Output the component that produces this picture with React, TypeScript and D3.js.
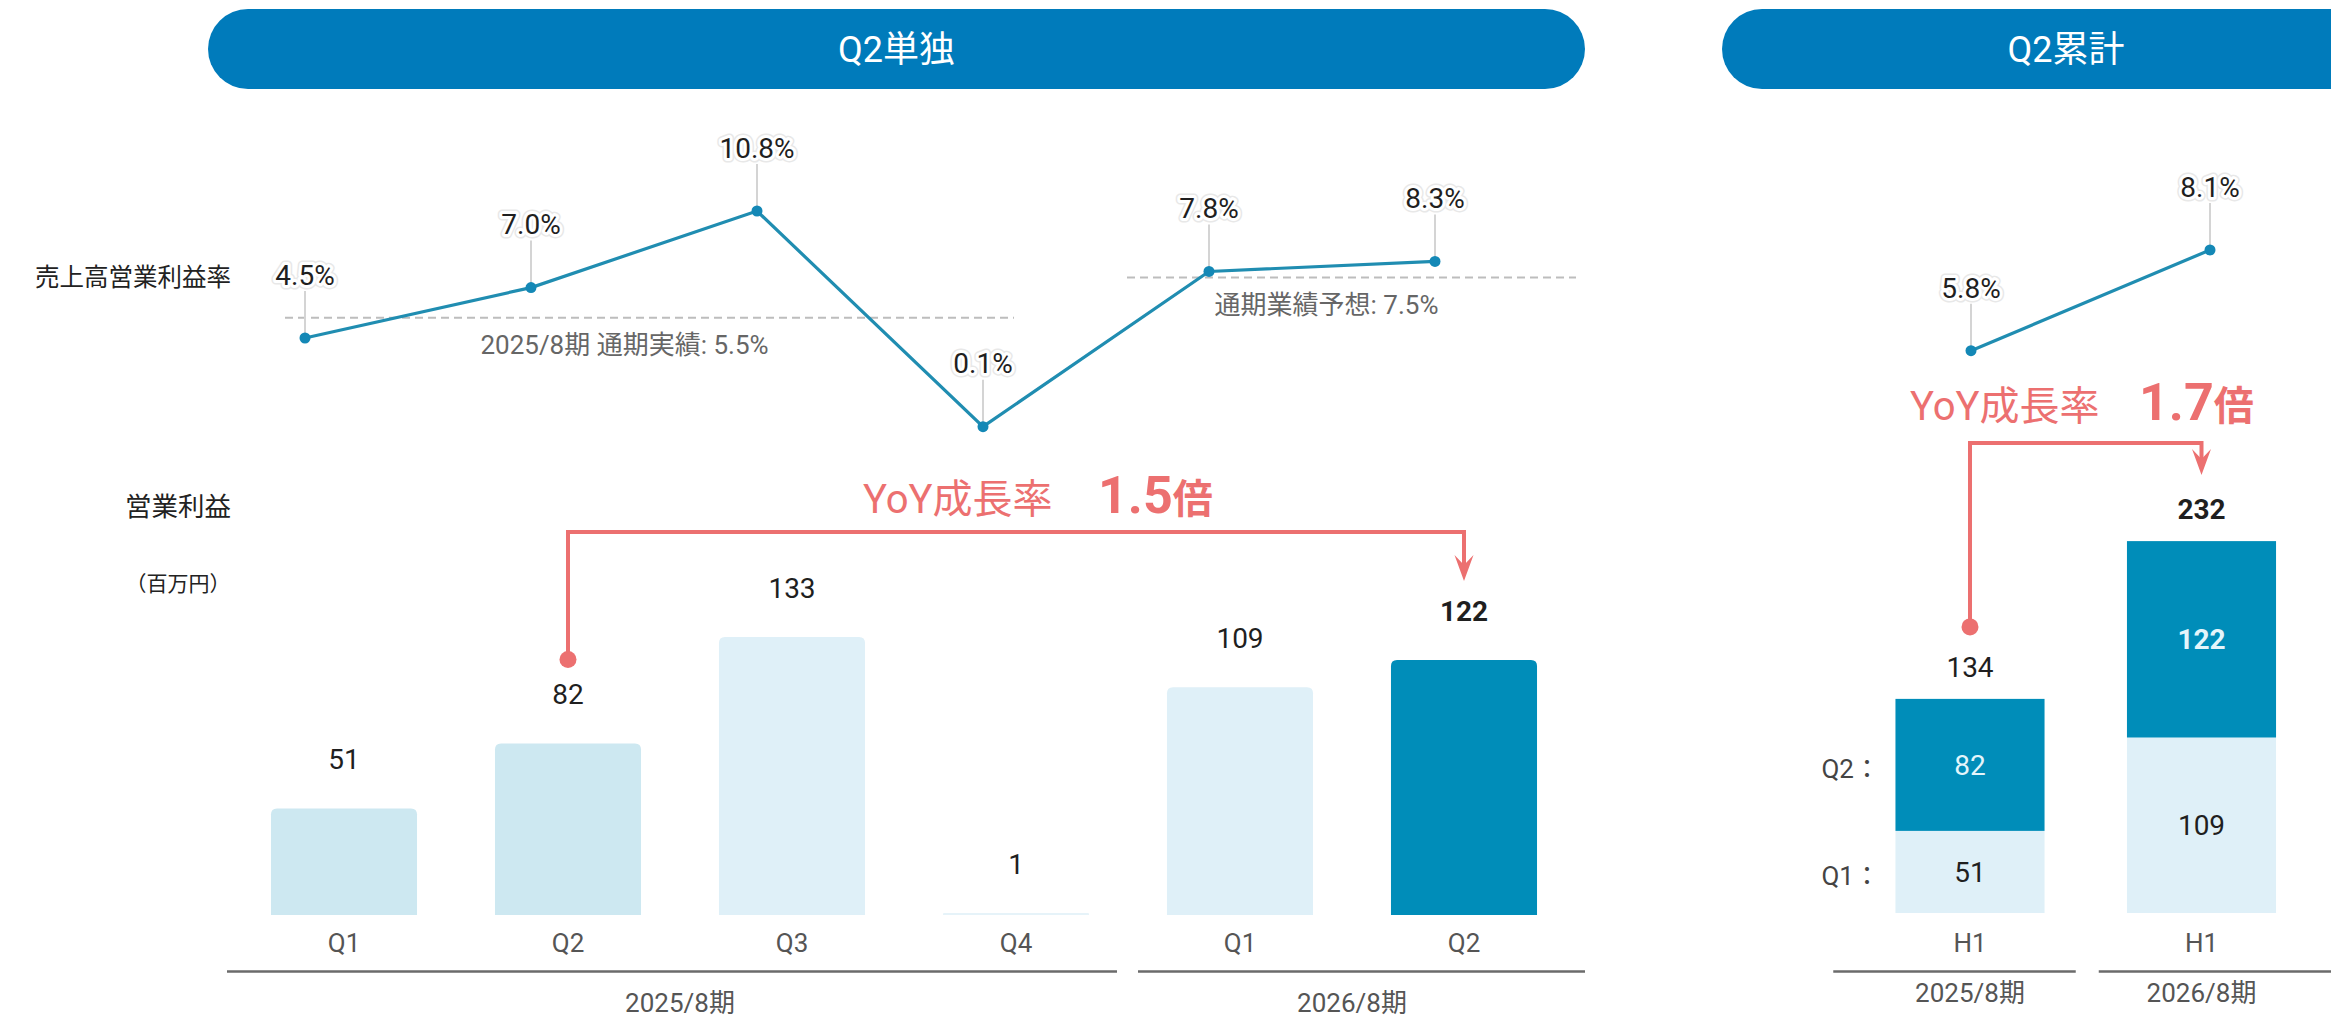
import React from "react";
import * as d3 from "d3";

// Q2単独 (quarterly)
const quarters = ["Q1", "Q2", "Q3", "Q4", "Q1", "Q2"];
const quarterYears = ["2025/8期", "2025/8期", "2025/8期", "2025/8期", "2026/8期", "2026/8期"];
const operatingProfit = [51, 82, 133, 1, 109, 122];
const operatingMargin = [4.5, 7.0, 10.8, 0.1, 7.8, 8.3];
const barColors = ["#cde8f1", "#cde8f1", "#dff0f8", "#e6f3f9", "#dff0f8", "#008db9"];

// full-year reference lines
const refLabels = ["2025/8期 通期実績: 5.5%", "通期業績予想: 7.5%"];
const refValues = [5.5, 7.5];

// Q2累計 (cumulative)
const halfPeriods = ["H1", "H1"];
const halfYears = ["2025/8期", "2026/8期"];
const halfQ1 = [51, 109];
const halfQ2 = [82, 122];
const halfTotal = [134, 232];
const halfMargin = [5.8, 8.1];
const stackLabels = ["Q1：", "Q2："];

const W = 2331;
const H = 1017;
const FONT = "Roboto, 'Noto Sans CJK JP', sans-serif";
const BLUE = "#007bbb";
const DARK = "#008db9";
const LIGHT = "#dff0f8";
const LINE = "#208db1";
const RED = "#ec7070";

const topRounded = (x: number, y: number, w: number, h: number, r: number) => {
  r = Math.min(r, h / 2, w / 2);
  return `M${x},${y + h}V${y + r}Q${x},${y} ${x + r},${y}H${x + w - r}Q${x + w},${y} ${x + w},${y + r}V${y + h}Z`;
};

// text with a white halo and faint grey rim, like the labels in the slide
const HaloText = ({ x, y, children, size = 28, weight = 400, fill = "#1f1f1f" }: any) => (
  <g fontFamily={FONT} fontSize={size} fontWeight={weight} textAnchor="middle">
    <text x={x} y={y} dy="0.35em" stroke="#e8e8e8" strokeWidth={9} strokeLinejoin="round" fill="none">
      {children}
    </text>
    <text x={x} y={y} dy="0.35em" stroke="#fff" strokeWidth={6} strokeLinejoin="round" fill="none">
      {children}
    </text>
    <text x={x} y={y} dy="0.35em" fill={fill}>
      {children}
    </text>
  </g>
);

const Bracket = ({ x1, x2, yDot, yTop, yTip }: any) => (
  <g>
    <path d={`M${x1},${yDot}V${yTop}H${x2}V${yTip - 12}`} fill="none" stroke={RED} strokeWidth={4} />
    <circle cx={x1} cy={yDot} r={8.5} fill={RED} />
    <path
      d={`M${x2},${yTip}L${x2 - 9.5},${yTip - 26}L${x2},${yTip - 16}L${x2 + 9.5},${yTip - 26}Z`}
      fill={RED}
    />
  </g>
);

const GroupAxis = ({ groups, xStart, xEnd, outerPad, innerPad, yLine, yLabel }: any) => (
  <g>
    {groups.map((g: any, i: number) => {
      const first = i === 0;
      const last = i === groups.length - 1;
      const x1 = xStart(g) + (first ? -outerPad[0] : innerPad[1]);
      const x2 = xEnd(g) + (last ? outerPad[1] : -innerPad[0]);
      return (
        <g key={g.name + i}>
          <line x1={x1} x2={x2} y1={yLine} y2={yLine} stroke="#6b6b6b" strokeWidth={2.5} />
          <text
            x={(xStart(g) + xEnd(g)) / 2}
            y={yLabel}
            dy="0.35em"
            textAnchor="middle"
            fontFamily={FONT}
            fontSize={26}
            fill="#555"
          >
            {g.name}
          </text>
        </g>
      );
    })}
  </g>
);

const App = () => {
  // ---------- left panel scales ----------
  const idx = d3.range(quarters.length);
  const xBar = d3.scaleBand<number>().domain(idx).range([232, 1576]).paddingInner(0.348).paddingOuter(0.174);
  const yBar = d3.scaleLinear().domain([0, 133]).range([915, 637]);
  const xPt = d3.scalePoint<number>().domain(idx).range([305, 1435]);
  const yPct = d3.scaleLinear().domain([0, 10.8]).range([428.7, 211]);
  const linePath = d3
    .line<number>()
    .x((d, i) => xPt(i)!)
    .y((d) => yPct(d))(operatingMargin);

  const step = xBar.step();
  const leftGroups = Array.from(d3.group(idx, (i) => quarterYears[i]), ([name, ids]) => ({ name, ids }));

  // ---------- right panel scales ----------
  const hIdx = d3.range(halfPeriods.length);
  const xHalf = d3.scaleBand<number>().domain(hIdx).range([1854.25, 2317.25]).paddingInner(0.356).paddingOuter(0.178);
  const yHalf = d3.scaleLinear().domain([0, 232]).range([913, 539.5]);
  const xHalfPt = d3.scalePoint<number>().domain(hIdx).range([1971, 2210]);
  const yHalfPct = d3.scaleLinear().domain([0, 8.1]).range([604.7, 250]);
  const halfLine = d3
    .line<number>()
    .x((d, i) => xHalfPt(i)!)
    .y((d) => yHalfPct(d))(halfMargin);
  const hStep = xHalf.step();
  const rightGroups = hIdx.map((i) => ({ name: halfYears[i], ids: [i] }));

  const stack = d3.stack<any>().keys(["q1", "q2"])(hIdx.map((i) => ({ q1: halfQ1[i], q2: halfQ2[i] })));

  // growth ratios
  const last = idx.length - 1;
  const prevQ2 = quarters.findIndex((q, i) => q === quarters[last] && quarterYears[i] !== quarterYears[last]);
  const yoyQ = (operatingProfit[last] / operatingProfit[prevQ2]).toFixed(1);
  const yoyH = (halfTotal[1] / halfTotal[0]).toFixed(1);

  const barLabelY = (v: number) => yBar(v) - 49;
  const halfLabelY = (v: number) => yHalf(v) - 32;
  const refSpans = [
    [285, 1014],
    [1127, 1576],
  ];

  return (
    <div style={{ position: "absolute", left: 0, top: 0 }}>
      <svg width={W} height={H} viewBox={`0 0 ${W} ${H}`} style={{ display: "block", background: "#fff" }}>
        {/* headers */}
        <rect x={208} y={9} width={1377} height={80} rx={40} fill={BLUE} />
        <text x={896.5} y={49} dy="0.35em" textAnchor="middle" fill="#fff" fontFamily={FONT} fontSize={36}>
          Q2単独
        </text>
        <rect x={1722} y={9} width={688} height={80} rx={40} fill={BLUE} />
        <text x={2066} y={49} dy="0.35em" textAnchor="middle" fill="#fff" fontFamily={FONT} fontSize={36}>
          Q2累計
        </text>

        {/* row labels */}
        <g fontFamily={FONT} fill="#222" textAnchor="end">
          <text x={231} y={277} dy="0.35em" fontSize={24.5}>
            売上高営業利益率
          </text>
          <text x={231} y={507} dy="0.35em" fontSize={26.5}>
            営業利益
          </text>
          <text x={178} y={584} dy="0.35em" fontSize={21} textAnchor="middle">
            （百万円）
          </text>
        </g>

        {/* reference lines */}
        {refValues.map((v, i) => {
          const [a, b] = refSpans[i];
          return (
            <g key={"ref" + i}>
              <line
                x1={a}
                x2={b}
                y1={yPct(v)}
                y2={yPct(v)}
                stroke="#bdbdbd"
                strokeWidth={2}
                strokeDasharray="8 5"
              />
              <text
                x={(a + b) / 2 - 25}
                y={yPct(v) + 27}
                dy="0.35em"
                textAnchor="middle"
                fontFamily={FONT}
                fontSize={26}
                fill="#666"
              >
                {refLabels[i]}
              </text>
            </g>
          );
        })}

        {/* margin line (quarterly) */}
        {operatingMargin.map((v, i) => (
          <line
            key={"ld" + i}
            x1={xPt(i)}
            x2={xPt(i)}
            y1={yPct(v) - 47}
            y2={yPct(v)}
            stroke="#d4d4d4"
            strokeWidth={2}
          />
        ))}
        <path d={linePath!} fill="none" stroke={LINE} strokeWidth={3.2} />
        {operatingMargin.map((v, i) => (
          <circle key={"pt" + i} cx={xPt(i)} cy={yPct(v)} r={5.5} fill="#1488b6" />
        ))}
        {operatingMargin.map((v, i) => (
          <HaloText key={"pl" + i} x={xPt(i)} y={yPct(v) - 63}>
            {v.toFixed(1)}%
          </HaloText>
        ))}

        {/* margin line (cumulative) */}
        {halfMargin.map((v, i) => (
          <line
            key={"hld" + i}
            x1={xHalfPt(i)}
            x2={xHalfPt(i)}
            y1={yHalfPct(v) - 47}
            y2={yHalfPct(v)}
            stroke="#d4d4d4"
            strokeWidth={2}
          />
        ))}
        <path d={halfLine!} fill="none" stroke={LINE} strokeWidth={3.2} />
        {halfMargin.map((v, i) => (
          <circle key={"hpt" + i} cx={xHalfPt(i)} cy={yHalfPct(v)} r={5.5} fill="#1488b6" />
        ))}
        {halfMargin.map((v, i) => (
          <HaloText key={"hpl" + i} x={xHalfPt(i)} y={yHalfPct(v) - 63}>
            {v.toFixed(1)}%
          </HaloText>
        ))}

        {/* quarterly bars */}
        {operatingProfit.map((v, i) => (
          <path
            key={"bar" + i}
            d={topRounded(xBar(i)!, yBar(v), xBar.bandwidth(), yBar(0) - yBar(v), 6)}
            fill={barColors[i]}
          />
        ))}
        {operatingProfit.map((v, i) => (
          <text
            key={"bl" + i}
            x={xBar(i)! + xBar.bandwidth() / 2}
            y={barLabelY(v)}
            dy="0.35em"
            textAnchor="middle"
            fontFamily={FONT}
            fontSize={28}
            fontWeight={i === last ? 700 : 400}
            fill="#1f1f1f"
          >
            {v}
          </text>
        ))}
        {quarters.map((q, i) => (
          <text
            key={"q" + i}
            x={xBar(i)! + xBar.bandwidth() / 2}
            y={943}
            dy="0.35em"
            textAnchor="middle"
            fontFamily={FONT}
            fontSize={26}
            fill="#555"
          >
            {q}
          </text>
        ))}
        <GroupAxis
          groups={leftGroups}
          xStart={(g: any) => xBar(g.ids[0])! - xBar.paddingOuter() * step}
          xEnd={(g: any) => xBar(g.ids[g.ids.length - 1])! + xBar.bandwidth() + xBar.paddingOuter() * step}
          outerPad={[5, 9]}
          innerPad={[11, 10]}
          yLine={971.5}
          yLabel={1003}
        />

        {/* cumulative stacked bars */}
        {stack.map((layer, li) =>
          layer.map((d, i) => (
            <rect
              key={"s" + li + i}
              x={xHalf(i)}
              y={yHalf(d[1])}
              width={xHalf.bandwidth()}
              height={yHalf(d[0]) - yHalf(d[1])}
              fill={li === 0 ? LIGHT : DARK}
            />
          ))
        )}
        {stack.map((layer, li) =>
          layer.map((d, i) => (
            <text
              key={"sl" + li + i}
              x={xHalf(i)! + xHalf.bandwidth() / 2}
              y={(yHalf(d[0]) + yHalf(d[1])) / 2}
              dy="0.35em"
              textAnchor="middle"
              fontFamily={FONT}
              fontSize={28}
              fontWeight={li === 1 && i === hIdx.length - 1 ? 700 : 400}
              fill={li === 0 ? "#1f1f1f" : "#e4f5fb"}
            >
              {d[1] - d[0]}
            </text>
          ))
        )}
        {stack.map((layer, li) => (
          <text
            key={"sk" + li}
            x={xHalf(0)! - 74}
            y={(yHalf(layer[0][0]) + yHalf(layer[0][1])) / 2 + 4}
            dy="0.35em"
            fontFamily={FONT}
            fontSize={26}
            fill="#444"
          >
            {stackLabels[li]}
          </text>
        ))}
        {halfTotal.map((v, i) => (
          <text
            key={"ht" + i}
            x={xHalf(i)! + xHalf.bandwidth() / 2}
            y={halfLabelY(stack[1][i][1])}
            dy="0.35em"
            textAnchor="middle"
            fontFamily={FONT}
            fontSize={28}
            fontWeight={i === hIdx.length - 1 ? 700 : 400}
            fill="#1f1f1f"
          >
            {v}
          </text>
        ))}
        {halfPeriods.map((p, i) => (
          <text
            key={"hp" + i}
            x={xHalf(i)! + xHalf.bandwidth() / 2}
            y={943}
            dy="0.35em"
            textAnchor="middle"
            fontFamily={FONT}
            fontSize={26}
            fill="#555"
          >
            {p}
          </text>
        ))}
        <GroupAxis
          groups={rightGroups}
          xStart={(g: any) => xHalf(g.ids[0])! - xHalf.paddingOuter() * hStep}
          xEnd={(g: any) => xHalf(g.ids[0])! + xHalf.bandwidth() + xHalf.paddingOuter() * hStep}
          outerPad={[21, 20]}
          innerPad={[10, 13]}
          yLine={971.5}
          yLabel={993}
        />

        {/* YoY annotations */}
        <Bracket
          x1={xBar(prevQ2)! + xBar.bandwidth() / 2}
          x2={xBar(last)! + xBar.bandwidth() / 2}
          yDot={barLabelY(operatingProfit[prevQ2]) - 35}
          yTop={532}
          yTip={barLabelY(operatingProfit[last]) - 30}
        />
        <g fontFamily={FONT} fill={RED}>
          <text x={863} y={513} fontSize={40}>
            YoY成長率
          </text>
          <text x={1098} y={513} fontWeight={700}>
            <tspan fontSize={52}>{yoyQ}</tspan>
            <tspan fontSize={40}>倍</tspan>
          </text>
        </g>

        <Bracket
          x1={xHalf(0)! + xHalf.bandwidth() / 2}
          x2={xHalf(1)! + xHalf.bandwidth() / 2}
          yDot={halfLabelY(stack[1][0][1]) - 40}
          yTop={443}
          yTip={halfLabelY(stack[1][1][1]) - 34}
        />
        <g fontFamily={FONT} fill={RED}>
          <text x={1910} y={420} fontSize={40}>
            YoY成長率
          </text>
          <text x={2139} y={420} fontWeight={700}>
            <tspan fontSize={52}>{yoyH}</tspan>
            <tspan fontSize={40}>倍</tspan>
          </text>
        </g>
      </svg>
    </div>
  );
};

export default App;
